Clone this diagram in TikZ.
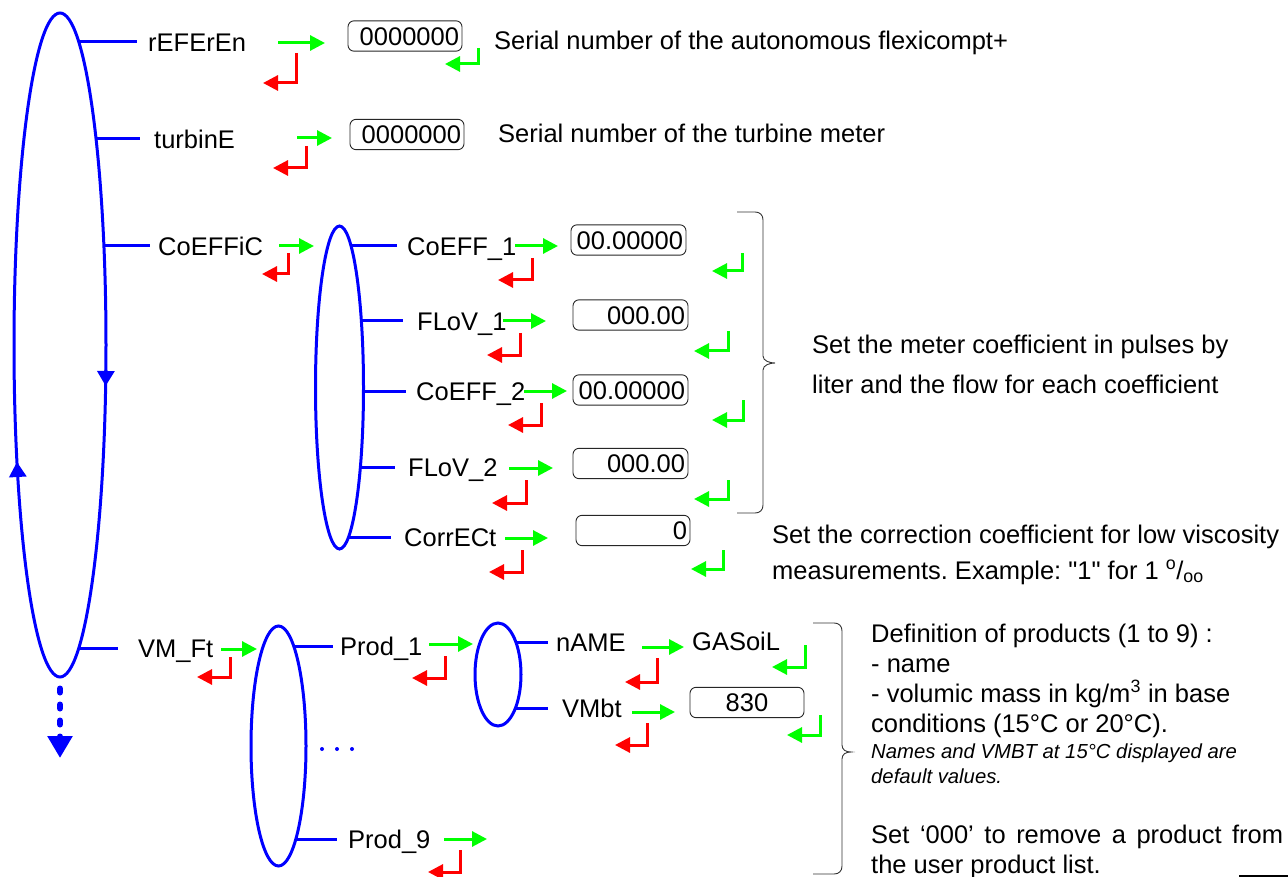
\documentclass[tikz,border=0pt]{standalone}
\usepackage{fontspec}
\setmainfont{Liberation Sans}[Ligatures=TeXOff]
\usetikzlibrary{arrows.meta,shapes.geometric,backgrounds}
\frenchspacing

\newcommand\lblfont{\fontsize{25.5pt}{30pt}\selectfont}
\newcommand\notefont{\fontsize{20.3pt}{24pt}\selectfont\itshape}

% key symbols: green = next / validate, red = back
\newcommand\keynext[3]{\draw[nextkey] (#1,#3) -- (#2,#3);}
\newcommand\keyback[4]{\draw[backkey] (#1,#2) -- (#1,#3) -- (#4,#3);}
\newcommand\keyok[4]{\draw[okkey] (#1,#2) -- (#1,#3) -- (#4,#3);}
% right curly brace: hook x, spine x, tip x, top y, bottom y, tip y
\newcommand\groupbrace[6]{\draw[brc] (#1,#4) -- (#2-8,#4) .. controls (#2-3,#4) and (#2,#4+3) .. (#2,#4+8)
  -- (#2,#6-7) .. controls (#2,#6-2) and (#3-5,#6) .. (#3,#6)
  .. controls (#3-5,#6) and (#2,#6+2) .. (#2,#6+7)
  -- (#2,#5-8) .. controls (#2,#5-3) and (#2-3,#5) .. (#2-8,#5) -- (#1,#5);}

\tikzset{
  x=1pt, y=-1pt,
  wire/.style={draw=blue, line width=3pt},
  menuring/.style={ellipse, draw=blue, line width=3pt, fill=white, inner sep=0pt},
  menuitem/.style={anchor=west, font=\lblfont, text height=18.3pt, text depth=0pt, inner ysep=0pt},
  txt/.style={anchor=base west, inner sep=0pt, font=\lblfont},
  note/.style={anchor=base west, inner sep=0pt, font=\notefont},
  valbox/.style={draw=black!85, line width=0.9pt, rounded corners=6pt, font=\lblfont,
    text height=18.3pt, text depth=0pt, inner ysep=6pt, inner xsep=3pt, align=right},
  nextkey/.style={draw=green, line width=3pt, -{Triangle[length=15pt,width=15pt]}},
  backkey/.style={draw=red, line width=3pt, -{Triangle[length=15pt,width=15pt]}},
  okkey/.style={draw=green, line width=3pt, -{Triangle[length=15pt,width=15pt]}},
  flowtip/.style={draw=blue, line width=3pt, -{Triangle[length=15pt,width=17pt]}},
  moreitems/.style={draw=blue, line width=6pt, line cap=round, dash pattern=on 4pt off 12pt,
    -{Triangle[length=22pt,width=24pt]}},
  brc/.style={draw=black!80, line width=0.9pt},
}

\begin{document}
\begin{tikzpicture}
\useasboundingbox (0,0) rectangle (1288,877);

% menu loops
\node[menuring, minimum width=92pt, minimum height=664pt] (M) at (60,345) {};
\node[menuring, minimum width=48pt, minimum height=323pt] (C) at (339.5,387.5) {};
\node[menuring, minimum width=55pt, minimum height=240pt] (P) at (278.5,746) {};
\node[menuring, minimum width=46pt, minimum height=103pt] (D) at (498,674.5) {};

% direction of travel round the main menu
\draw[flowtip] (105.87,370) -- (105.65,386);
\draw[flowtip] (17.73,476) -- (16.95,462);
\coordinate (more) at (60,758);
\draw[moreitems] ([yshift=-10pt]M.south) -- (more);

% main menu items
\node[menuitem, inner xsep=11pt] (ref) at (137,42) {rEFErEn};
\node[menuitem, inner xsep=14pt] (tur) at (140,139) {turbinE};
\node[menuitem, inner xsep=8pt]  (coe) at (150,246) {CoEFFiC};
\node[menuitem, inner xsep=20pt] (vmf) at (118,648) {VM\_Ft};

% coefficient submenu
\node[menuitem, inner xsep=10pt] (c1) at (397,246) {CoEFF\_1};
\node[menuitem, inner xsep=14pt] (f1) at (403,321) {FLoV\_1};
\node[menuitem, inner xsep=10pt] (c2) at (406,391) {CoEFF\_2};
\node[menuitem, inner xsep=13pt] (f2) at (395,467) {FLoV\_2};
\node[menuitem, inner xsep=13pt] (cor) at (391,537) {CorrECt};

% product submenu
\node[menuitem, inner xsep=7pt]  (p1) at (333,646) {Prod\_1};
\node[menuitem, inner xsep=11pt] (p9) at (337,839) {Prod\_9};
\node[menuitem, inner xsep=8pt]  (nm) at (548,642) {nAME};
\node[menuitem, inner xsep=14pt] (vb) at (548,708) {VMbt};
\node[menuitem, inner xsep=0pt]  (gas) at (692,641) {GASoiL};

\begin{pgfonlayer}{background}
  \foreach \n in {ref,tur,coe,vmf} \draw[wire] (M.center |- \n.west) -- (\n.west);
  \foreach \n in {c1,f1,c2,f2,cor} \draw[wire] (C.center |- \n.west) -- (\n.west);
  \foreach \n in {p1,p9} \draw[wire] (P.center |- \n.west) -- (\n.west);
  \foreach \n in {nm,vb} \draw[wire] (D.center |- \n.west) -- (\n.west);
\end{pgfonlayer}

\foreach \x in {322,337,352} \fill[blue] (\x,749) circle (2);

% value fields
\node[valbox, text width=108pt] (v1) at (405,36) {0000000};
\node[valbox, text width=108pt] (v2) at (407,134.5) {0000000};
\node[valbox, text width=109pt] (v3) at (628.5,240) {00.00000};
\node[valbox, text width=109pt] (v4) at (630.5,315) {000.00};
\node[valbox, text width=109pt] (v5) at (630.5,390) {00.00000};
\node[valbox, text width=109pt] (v6) at (630.5,463.5) {000.00};
\node[valbox, text width=108pt] (v7) at (633,530.5) {0};
\node[valbox, text width=108pt, align=center] (v8) at (747,702.5) {830};

% next keys
\keynext{278}{325}{43}
\keynext{297}{332}{138}
\keynext{279}{314}{246}
\keynext{221}{257}{649}
\keynext{429}{473}{644}
\keynext{444}{487}{839}
\keynext{515}{558}{246}
\keynext{503}{546}{321}
\keynext{524}{567}{391}
\keynext{509}{553}{468}
\keynext{505}{548}{538}
\keynext{642}{684}{647}
\keynext{632}{675}{712}

% back keys
\keyback{296}{53}{83}{263}
\keyback{306}{146}{168}{273}
\keyback{288}{253}{274}{262}
\keyback{230}{657}{677}{197}
\keyback{445}{656}{678}{412}
\keyback{460}{850}{872}{428}
\keyback{532}{258}{280}{498}
\keyback{520}{333}{355}{487}
\keyback{541}{403}{425}{508}
\keyback{526}{480}{503}{492}
\keyback{522}{550}{572}{489}
\keyback{657}{658}{682}{625}
\keyback{647}{723}{745}{615}

% validate keys
\keyok{478}{48}{64}{445}
\keyok{742}{253}{271}{712}
\keyok{728}{331}{351}{694}
\keyok{743}{400}{420}{712}
\keyok{728}{480}{499}{694}
\keyok{723}{550}{569}{691}
\keyok{805}{645}{667}{772}
\keyok{820}{715}{735}{787}

% explanations
\node[txt] (t1) at (494,50) {Serial number of the autonomous flexicompt+};
\node[txt] (t2) at (498,143) {Serial number of the turbine meter};

\groupbrace{737}{763}{775}{212}{513}{363}
\node[txt] (t3) at (812,353) {Set the meter coefficient in pulses by};
\node[txt] (t4) at (812,393) {liter and the flow for each coefficient};

\node[txt] (t5) at (772,543) {Set the correction coefficient for low viscosity};
\node[txt] (t6) at (772,579) {measurements. Example: "1" for 1 \textsuperscript{o}/\textsubscript{oo}};

\groupbrace{813}{842}{851}{623}{874}{752}
\node[txt] (t7) at (871,642) {Definition of products (1 to 9) :};
\node[txt] (t8) at (871,672) {- name};
\node[txt] (t9) at (871,702) {- volumic mass in kg/m\textsuperscript{3} in base};
\node[txt] (t10) at (871,732) {conditions (15°C or 20°C).};
\node[note] (t11) at (871,758) {Names and VMBT at 15°C displayed are};
\node[note] (t12) at (871,783) {default values.};
\node[txt] (t13) at (871,843) {\makebox[412pt][s]{Set ‘000’ to remove a product from}};
\node[txt] (t14) at (871,873) {the user product list.};

\draw[line width=2pt] (1239,876) -- (1288,876);
\end{tikzpicture}
\end{document}
